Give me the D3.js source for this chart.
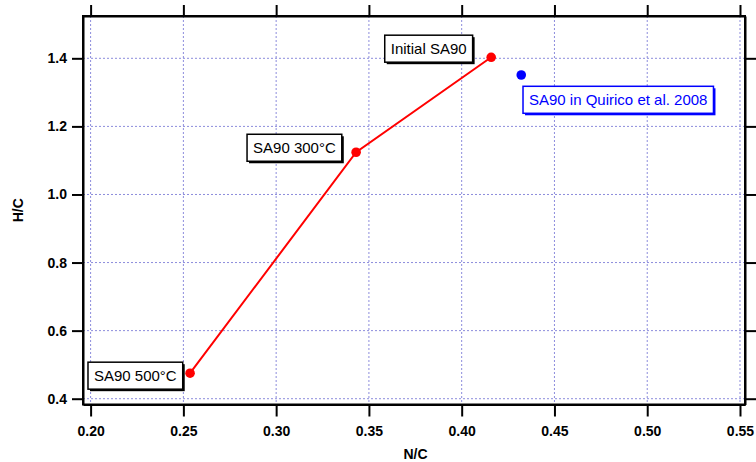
<!DOCTYPE html>
<html><head><meta charset="utf-8">
<script src="https://cdn.jsdelivr.net/npm/d3@7"></script>
<style>body{margin:0;background:#fff}svg{display:block}</style>
</head><body>
<svg id="c" width="756" height="462"></svg>
<script>
const xTicks = [0.20,0.25,0.30,0.35,0.40,0.45,0.50,0.55];
const yTicks = [0.4,0.6,0.8,1.0,1.2,1.4];
const seriesLabels = ["SA90 500°C","SA90 300°C","Initial SA90"];
const seriesNC = [0.2536,0.3431,0.4159];
const seriesHC = [0.475,1.124,1.403];
const refLabel = ["SA90 in Quirico et al. 2008"];
const refNC = [0.4321];
const refHC = [1.351];

const svg = d3.select("#c");
const L=83,R=745,T=16,B=404.5;
const x = d3.scaleLinear().domain([0.1959,0.5527]).range([L,R]);
const y = d3.scaleLinear().domain([0.383,1.5243]).range([B,T]);
const font = "'Liberation Sans', Arial, sans-serif";

// grid
const g = svg.append("g");
g.selectAll(".gx").data(xTicks).enter().append("line")
 .attr("x1",d=>x(d)).attr("x2",d=>x(d)).attr("y1",T).attr("y2",B)
 .attr("stroke","#8c8cdc").attr("stroke-width",1).attr("stroke-dasharray","2,2");
g.selectAll(".gy").data(yTicks).enter().append("line")
 .attr("y1",d=>y(d)).attr("y2",d=>y(d)).attr("x1",L).attr("x2",R)
 .attr("stroke","#8c8cdc").attr("stroke-width",1).attr("stroke-dasharray","2,2");

function styleAxis(sel){
  sel.selectAll("path").attr("stroke","#000").attr("stroke-width",2);
  sel.selectAll("line").attr("stroke","#000").attr("stroke-width",2);
  sel.selectAll("text").attr("font-family",font).attr("font-weight","bold").attr("font-size","14px").attr("fill","#000");
}
const fmtX = d3.format(".2f"), fmtY = d3.format(".1f");
const ax = svg.append("g").attr("transform",`translate(0,${B})`)
 .call(d3.axisBottom(x).tickValues(xTicks).tickFormat(fmtX).tickSizeOuter(0).tickSizeInner(12).tickPadding(10));
styleAxis(ax);
const ay = svg.append("g").attr("transform",`translate(${L},0)`)
 .call(d3.axisLeft(y).tickValues(yTicks).tickFormat(fmtY).tickSizeOuter(0).tickSizeInner(11).tickPadding(5));
styleAxis(ay);
const at = svg.append("g").attr("transform",`translate(0,${T})`)
 .call(d3.axisTop(x).tickValues(xTicks).tickFormat("").tickSizeOuter(0).tickSizeInner(11));
styleAxis(at);
const ar = svg.append("g").attr("transform",`translate(${R},0)`)
 .call(d3.axisRight(y).tickValues(yTicks).tickFormat("").tickSizeOuter(0).tickSizeInner(11));
styleAxis(ar);
svg.append("rect").attr("x",L).attr("y",T).attr("width",R-L).attr("height",B-T)
 .attr("fill","none").attr("stroke","#000").attr("stroke-width",2);

// axis titles
svg.append("text").attr("x",415.5).attr("y",458.5).attr("text-anchor","middle")
 .attr("font-family",font).attr("font-weight","bold").attr("font-size","14px").text("N/C");
svg.append("text").attr("transform",`translate(23,${(T+B)/2}) rotate(-90)`).attr("text-anchor","middle")
 .attr("font-family",font).attr("font-weight","bold").attr("font-size","14px").text("H/C");

// series
const pts = seriesNC.map((v,i)=>({nc:v,hc:seriesHC[i],label:seriesLabels[i]}));
svg.append("path").datum(pts)
 .attr("d",d3.line().x(d=>x(d.nc)).y(d=>y(d.hc)))
 .attr("fill","none").attr("stroke","#ff0000").attr("stroke-width",2);
svg.selectAll(".pt").data(pts).enter().append("circle")
 .attr("cx",d=>x(d.nc)).attr("cy",d=>y(d.hc)).attr("r",4.8).attr("fill","#ff0000");
const refPts = refNC.map((v,i)=>({nc:v,hc:refHC[i],label:refLabel[i]}));
svg.selectAll(".rp").data(refPts).enter().append("circle")
 .attr("cx",d=>x(d.nc)).attr("cy",d=>y(d.hc)).attr("r",4.8).attr("fill","#0000ff");

// annotation boxes (offset of box centre from point)
const offsets = {"SA90 500°C":[-54.7,2.5],"SA90 300°C":[-61.7,-4.5],"Initial SA90":[-62.5,-8.6],"SA90 in Quirico et al. 2008":[97,24.8]};
function annot(d,color){
  const [dx,dy]=offsets[d.label];
  const cx=x(d.nc)+dx, cy=y(d.hc)+dy;
  const grp=svg.append("g");
  const t=grp.append("text").attr("x",cx).attr("y",cy).attr("text-anchor","middle").attr("dy","0.35em")
   .attr("font-family",font).attr("font-size","15px").attr("fill",color).text(d.label);
  const w=t.node().getComputedTextLength()+12, h=27;
  grp.insert("rect","text").attr("x",cx-w/2+2).attr("y",cy-h/2+2).attr("width",w).attr("height",h).attr("fill",color);
  grp.insert("rect","text").attr("x",cx-w/2).attr("y",cy-h/2).attr("width",w).attr("height",h)
   .attr("fill","#fff").attr("stroke",color).attr("stroke-width",1.5);
}
pts.forEach(d=>annot(d,"#000"));
refPts.forEach(d=>annot(d,"#0000ff"));
</script>
</body></html>
